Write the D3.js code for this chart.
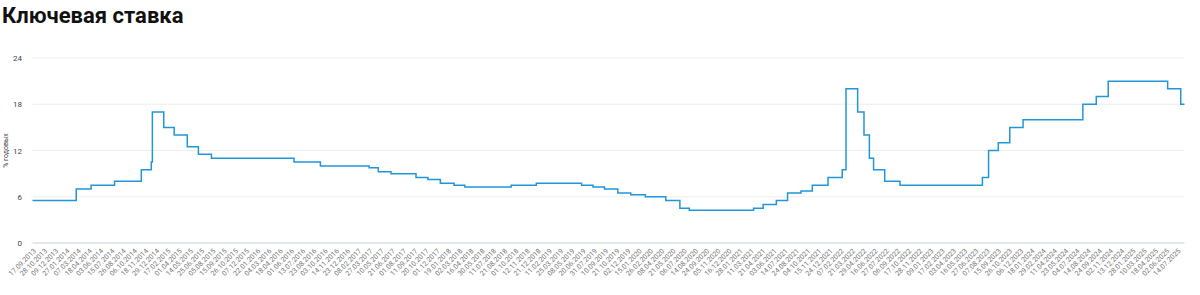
<!DOCTYPE html>
<html>
<head>
<meta charset="utf-8">
<script src="https://cdn.jsdelivr.net/npm/d3@7"></script>
<style>
  body { margin: 0; background: #fff; font-family: Roboto, "Noto Sans", sans-serif; }
  svg { display: block; }
</style>
</head>
<body>
<div id="chart"></div>
<script>
// подписи оси X (как на исходной картинке)
const tickLabels = [
  '17.09.2013','28.10.2013','09.12.2013','27.01.2014','07.03.2014','18.04.2014','03.06.2014','15.07.2014',
  '26.08.2014','06.10.2014','18.11.2014','29.12.2014','17.02.2015','01.04.2015','14.05.2015','25.06.2015',
  '05.08.2015','15.09.2015','26.10.2015','07.12.2015','22.01.2016','04.03.2016','18.04.2016','01.06.2016',
  '13.07.2016','23.08.2016','03.10.2016','14.11.2016','23.12.2016','08.02.2017','27.03.2017','10.05.2017',
  '21.06.2017','01.08.2017','11.09.2017','20.10.2017','01.12.2017','19.01.2018','02.03.2018','16.04.2018',
  '30.05.2018','11.07.2018','21.08.2018','01.10.2018','12.11.2018','21.12.2018','11.02.2019','25.03.2019',
  '08.05.2019','20.06.2019','31.07.2019','10.09.2019','21.10.2019','02.12.2019','15.01.2020','26.02.2020',
  '08.04.2020','21.05.2020','06.07.2020','14.08.2020','24.09.2020','05.11.2020','16.12.2020','28.01.2021',
  '11.03.2021','21.04.2021','03.06.2021','14.07.2021','24.08.2021','04.10.2021','15.11.2021','24.12.2021',
  '07.02.2022','21.03.2022','29.04.2022','16.06.2022','27.07.2022','06.09.2022','17.10.2022','28.11.2022',
  '09.01.2023','17.02.2023','03.04.2023','16.05.2023','27.06.2023','07.08.2023','15.09.2023','26.10.2023',
  '06.12.2023','18.01.2024','29.02.2024','11.04.2024','23.05.2024','04.07.2024','14.08.2024','24.09.2024',
  '02.11.2024','13.12.2024','28.01.2025','10.03.2025','18.04.2025','02.06.2025','14.07.2025'
];

// даты изменения ставки и значения
const rateDates = [
  '17.09.2013','03.03.2014','28.04.2014','28.07.2014','05.11.2014','12.12.2014','16.12.2014','02.02.2015',
  '16.03.2015','05.05.2015','16.06.2015','03.08.2015','14.06.2016','19.09.2016','27.03.2017','02.05.2017',
  '19.06.2017','18.09.2017','30.10.2017','18.12.2017','12.02.2018','26.03.2018','17.09.2018','17.12.2018',
  '17.06.2019','29.07.2019','09.09.2019','28.10.2019','16.12.2019','10.02.2020','27.04.2020','22.06.2020',
  '27.07.2020','22.03.2021','26.04.2021','15.06.2021','26.07.2021','13.09.2021','25.10.2021','20.12.2021',
  '14.02.2022','28.02.2022','11.04.2022','04.05.2022','27.05.2022','14.06.2022','25.07.2022','19.09.2022',
  '24.07.2023','15.08.2023','18.09.2023','30.10.2023','18.12.2023','29.07.2024','16.09.2024','28.10.2024',
  '09.06.2025','28.07.2025','11.08.2025'
];
const rateValues = [
  5.5, 7, 7.5, 8, 9.5, 10.5, 17, 15,
  14, 12.5, 11.5, 11, 10.5, 10, 9.75, 9.25,
  9, 8.5, 8.25, 7.75, 7.5, 7.25, 7.5, 7.75,
  7.5, 7.25, 7, 6.5, 6.25, 6, 5.5, 4.5,
  4.25, 4.5, 5, 5.5, 6.5, 6.75, 7.5, 8.5,
  9.5, 20, 17, 14, 11, 9.5, 8, 7.5,
  8.5, 12, 13, 15, 16, 18, 19, 21,
  20, 18, 18
];
const yTicks = [0, 6, 12, 18, 24];

const width = 1200, height = 295;
const parse = d3.timeParse('%d.%m.%Y');
const tickDates = tickLabels.map(parse);
const data = rateDates.map((d, i) => ({ date: parse(d), value: rateValues[i] }));

const svg = d3.select('#chart')
  .append('svg')
  .attr('width', width)
  .attr('height', height);

svg.append('text')
  .attr('x', 2)
  .attr('y', 23)
  .attr('font-size', 22)
  .attr('font-weight', 700)
  .attr('fill', '#111')
  .text('Ключевая ставка');

// подписи идут равномерно, поэтому шкала кусочно-линейная по датам подписей
const pos = d3.scaleLinear().domain([0, tickDates.length - 1]).range([32.5, 1177]);
const x = d3.scaleTime()
  .domain(tickDates)
  .range(tickDates.map((d, i) => pos(i)));

const y = d3.scaleLinear().domain([0, 24]).range([243, 58]);

const x0 = x(data[0].date), x1 = x(data[data.length - 1].date);

// сетка
svg.append('g')
  .selectAll('line')
  .data(yTicks)
  .join('line')
  .attr('x1', x0)
  .attr('x2', x1)
  .attr('y1', d => y(d))
  .attr('y2', d => y(d))
  .attr('stroke', d => d === 0 ? '#e3e8ee' : '#eeeeee')
  .attr('stroke-width', d => d === 0 ? 2 : 1);

// ось Y
const yAxis = svg.append('g')
  .attr('transform', 'translate(22,0)')
  .call(d3.axisLeft(y).tickValues(yTicks).tickSize(0).tickPadding(0));
yAxis.select('.domain').remove();
yAxis.selectAll('text')
  .attr('font-size', 8)
  .attr('font-family', 'Roboto, sans-serif')
  .attr('fill', '#444');

svg.append('text')
  .attr('transform', 'translate(8,' + y(12) + ') rotate(-90)')
  .attr('text-anchor', 'middle')
  .attr('font-size', 7)
  .attr('fill', '#444')
  .text('% годовых');

// ось X
const xAxis = svg.append('g')
  .attr('transform', 'translate(0,248)')
  .call(d3.axisBottom(x).tickValues(tickDates).tickFormat(d3.timeFormat('%d.%m.%Y')).tickSize(0).tickPadding(0));
xAxis.select('.domain').remove();
xAxis.selectAll('text')
  .attr('font-size', 7)
  .attr('font-family', 'Roboto, sans-serif')
  .attr('fill', '#777')
  .attr('text-anchor', 'end')
  .attr('dy', '0.7em')
  .attr('transform', 'rotate(-45)');

// линия ставки
const line = d3.line()
  .x(d => x(d.date))
  .y(d => y(d.value))
  .curve(d3.curveStepAfter);

svg.append('path')
  .datum(data)
  .attr('fill', 'none')
  .attr('stroke', '#2196d8')
  .attr('stroke-width', 1.5)
  .attr('d', line);
</script>
</body>
</html>
